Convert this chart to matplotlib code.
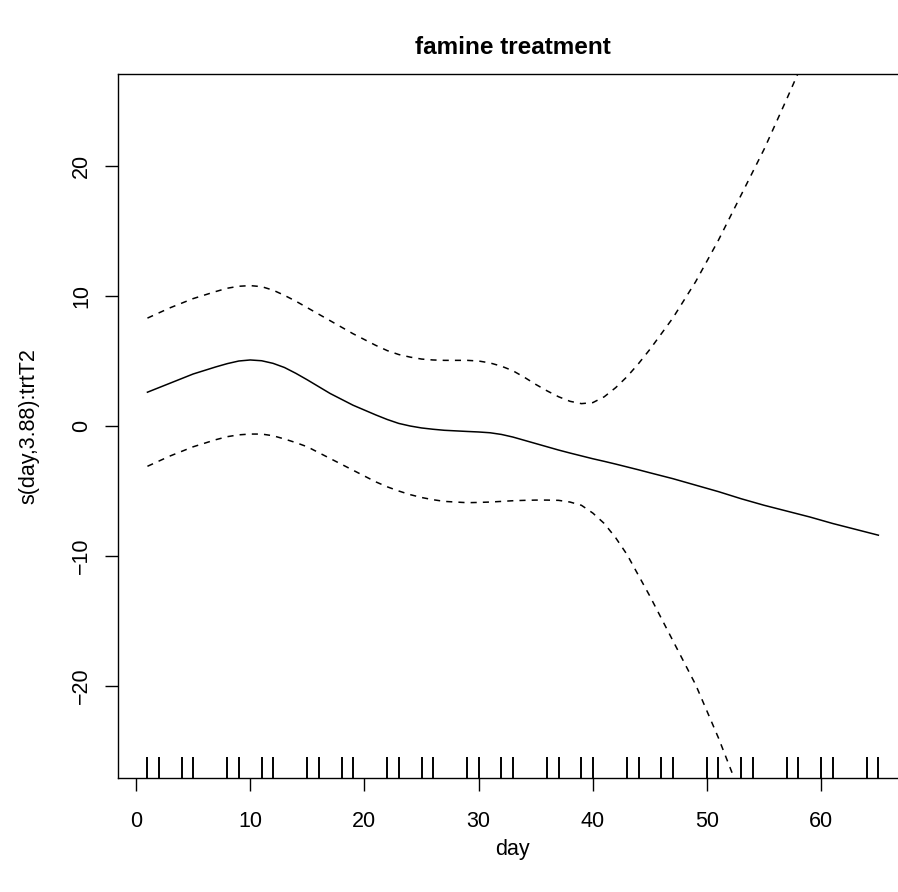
import matplotlib
matplotlib.use("Agg")
import matplotlib.pyplot as plt
import matplotlib.transforms as mtransforms

plt.rcParams['font.family'] = ['Liberation Sans', 'DejaVu Sans']

# days where observations exist (rug)
rug_days = [1, 2, 4, 5, 8, 9, 11, 12, 15, 16, 18, 19, 22, 23, 25, 26, 29, 30,
            32, 33, 36, 37, 39, 40, 43, 44, 46, 47, 50, 51, 53, 54, 57, 58,
            60, 61, 64, 65]

# smooth estimate and its bands
day = [1, 3, 5, 7, 8, 9, 10, 11, 12, 13, 14, 15, 17, 19, 21, 22, 23, 24, 25,
       26, 27, 29, 30, 31, 32, 33, 34, 35, 36, 37, 38, 39, 40, 41, 42, 43, 44,
       45, 47, 49, 51, 53, 55, 57, 59, 61, 63, 65]
fit = [2.6, 3.3, 4.0, 4.55, 4.8, 5.0, 5.08, 5.02, 4.82, 4.5, 4.05, 3.55, 2.5,
       1.6, 0.85, 0.5, 0.2, 0.0, -0.15, -0.25, -0.33, -0.42, -0.46, -0.52,
       -0.65, -0.85, -1.1, -1.35, -1.6, -1.85, -2.08, -2.3, -2.52, -2.72,
       -2.93, -3.15, -3.37, -3.6, -4.05, -4.55, -5.05, -5.6, -6.1, -6.55,
       -7.0, -7.5, -7.95, -8.4]
upper = [8.3, 9.1, 9.8, 10.35, 10.6, 10.75, 10.8, 10.72, 10.45, 10.05, 9.6,
         9.1, 8.1, 7.1, 6.2, 5.8, 5.5, 5.3, 5.15, 5.08, 5.05, 5.05, 5.0, 4.85,
         4.6, 4.25, 3.75, 3.2, 2.7, 2.25, 1.9, 1.72, 1.8, 2.25, 2.95, 3.8, 4.8,
         5.9, 8.3, 11.1, 14.3, 17.8, 21.3, 25.2, 29.2, 33.3, 37.5, 42.0]
lower = [-3.1, -2.3, -1.6, -1.05, -0.82, -0.68, -0.62, -0.62, -0.75, -1.0,
         -1.28, -1.6, -2.5, -3.4, -4.3, -4.68, -5.0, -5.28, -5.5, -5.67, -5.8,
         -5.9, -5.88, -5.85, -5.8, -5.75, -5.72, -5.7, -5.7, -5.72, -5.85,
         -6.1, -6.7, -7.5, -8.6, -9.9, -11.5, -13.1, -16.5, -19.9, -24.0,
         -28.5, -33.5, -39.0, -45.0, -51.0, -58.0, -65.0]

W, H = 898, 892
fig = plt.figure(figsize=(W / 100, H / 100), dpi=100)

# plot region in pixels (right edge lies past the picture, as in the original)
left_px, right_px, top_px, bottom_px = 118.2, 907.6, 74, 778
ax = fig.add_axes([left_px / W, 1 - bottom_px / H,
                   (right_px - left_px) / W, (bottom_px - top_px) / H])

ax.plot(day, fit, color='black', lw=1.1)
ax.plot(day, upper, color='black', lw=1.1, dashes=(4, 4))
ax.plot(day, lower, color='black', lw=1.1, dashes=(4, 4))

# rug along the bottom
trans = mtransforms.blended_transform_factory(ax.transData, ax.transAxes)
ax.vlines(rug_days, 0, 0.03, transform=trans, color='black', lw=1.4)

ax.set_xlim(-1.56, 67.56)
ax.set_ylim(-27.08, 27.08)
ax.set_xticks([0, 10, 20, 30, 40, 50, 60])
ax.set_yticks([-20, -10, 0, 10, 20])

for s in ax.spines.values():
    s.set_linewidth(1.0)

ax.tick_params(axis='x', direction='out', length=9.4, width=1.0,
               labelsize=15.5, pad=14.5)
ax.tick_params(axis='y', direction='out', length=9.4, width=1.0,
               labelsize=15.5, pad=9.5)
plt.setp(ax.get_yticklabels(), rotation=90, va='center')

cx = (left_px + right_px) / 2 / W
fig.text(cx, 1 - 47 / H, 'famine treatment', ha='center', va='center',
         fontsize=17.5, fontweight='bold')
fig.text(cx, 1 - 849 / H, 'day', ha='center', va='center', fontsize=15.5)
fig.text(29 / W, 1 - 426 / H, 's(day,3.88):trtT2', ha='center', va='center',
         rotation=90, fontsize=15.5)

fig.savefig('out.png', dpi=100)
